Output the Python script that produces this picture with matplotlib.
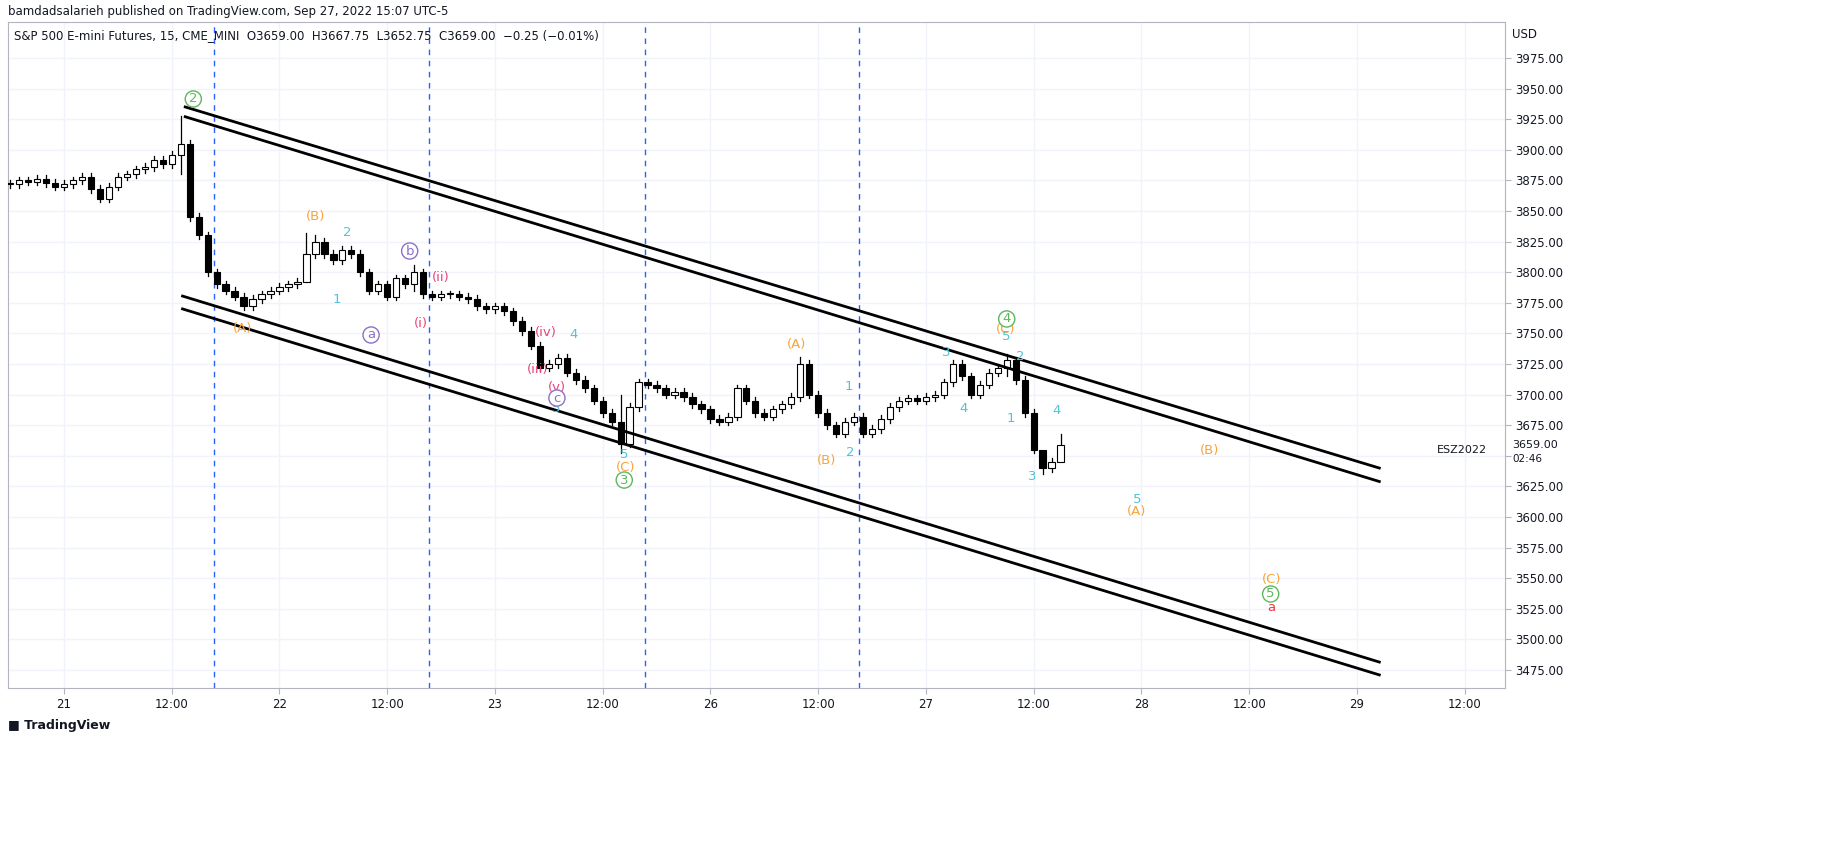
import matplotlib
matplotlib.use("Agg")
import matplotlib.pyplot as plt

# hourly closes, x in hours of the compressed session axis (0 = 21st)
START = -6
closes = [3872, 3875, 3874, 3876, 3873, 3870,
          3872, 3875, 3878, 3868, 3860, 3870, 3878, 3880, 3884, 3886,
          3892, 3888, 3896, 3905, 3845, 3830, 3800, 3790, 3785, 3780,
          3772, 3778, 3782, 3785, 3788, 3790, 3792, 3815, 3825, 3815,
          3810, 3818, 3815, 3800, 3785, 3790, 3780, 3795, 3790, 3800,
          3782, 3780, 3782, 3782, 3780, 3778, 3772, 3770, 3772, 3768,
          3760, 3752, 3740, 3722, 3725, 3730, 3718, 3712, 3705, 3695,
          3685, 3678, 3660, 3690, 3710, 3708, 3705, 3700, 3702, 3698,
          3692, 3688, 3680, 3678, 3682, 3705, 3695, 3685, 3682, 3688,
          3692, 3698, 3725, 3700, 3685, 3675, 3668, 3678, 3682, 3668,
          3672, 3680, 3690, 3695, 3697, 3695, 3698, 3700, 3710, 3725,
          3715, 3700, 3708, 3718, 3722, 3728, 3712, 3685, 3655, 3640, 3645, 3659]
# extreme wicks: hour -> (high, low)
wick_override = {13: (3928, 3880), 27: (3832, 3800), 28: (3830, 3812),
                 39: (3806, 3785), 62: (3700, 3652), 82: (3731, 3695),
                 105: (3733, 3715), 109: (3650, 3635), 111: (3668, 3652)}

channels = [((13.5, 3935.0), (146.5, 3640.0)),
            ((13.5, 3927.0), (146.5, 3629.0)),
            ((13.2, 3780.5), (146.5, 3481.5)),
            ((13.2, 3770.0), (146.5, 3471.0))]
vlines = [16.7, 40.6, 64.7, 88.6]

ORANGE, CYAN, GREEN, PURPLE, PINK, RED = "#f7a43b", "#4fc3d9", "#5cb85c", "#8e6fc7", "#e8457a", "#f23645"
# (text, x, price, colour, circled)
labels = [("2", 14.4, 3941.5, GREEN, True), ("(A)", 19.9, 3754.4, ORANGE, False),
          ("(B)", 28.0, 3845.9, ORANGE, False), ("2", 31.6, 3832.8, CYAN, False),
          ("1", 30.4, 3778.1, CYAN, False), ("b", 38.5, 3817.3, PURPLE, True),
          ("a", 34.2, 3748.7, PURPLE, True), ("(ii)", 42.0, 3795.3, PINK, False),
          ("(i)", 39.8, 3757.7, PINK, False), ("(iv)", 53.7, 3751.1, PINK, False),
          ("4", 56.7, 3748.7, CYAN, False), ("(iii)", 52.7, 3720.1, PINK, False),
          ("(v)", 54.9, 3706.2, PINK, False), ("5", 54.8, 3688.4, CYAN, False),
          ("c", 54.9, 3697.2, PURPLE, True), ("5", 62.4, 3650.7, CYAN, False),
          ("(C)", 62.5, 3640.8, ORANGE, False), ("3", 62.4, 3630.2, GREEN, True),
          ("(A)", 81.6, 3741.3, ORANGE, False), ("1", 87.4, 3707.0, CYAN, False),
          ("(B)", 84.9, 3645.8, ORANGE, False), ("2", 87.6, 3652.3, CYAN, False),
          ("3", 98.3, 3734.8, CYAN, False), ("4", 100.2, 3689.0, CYAN, False),
          ("(C)", 104.9, 3752.8, ORANGE, False), ("4", 105.0, 3761.8, GREEN, True),
          ("5", 104.9, 3747.1, CYAN, False), ("2", 106.5, 3731.5, CYAN, False),
          ("1", 105.5, 3680.1, CYAN, False), ("4", 110.5, 3687.4, CYAN, False),
          ("3", 107.8, 3632.7, CYAN, False), ("(B)", 127.6, 3654.7, ORANGE, False),
          ("5", 119.5, 3613.9, CYAN, False), ("(A)", 119.5, 3604.9, ORANGE, False),
          ("(C)", 134.5, 3549.3, ORANGE, False), ("5", 134.4, 3537.1, GREEN, True),
          ("a", 134.5, 3525.7, RED, False)]

tick_pos = [0, 12, 24, 36, 48, 60, 72, 84, 96, 108, 120, 132, 144, 156]
tick_lab = ["21", "12:00", "22", "12:00", "23", "12:00", "26", "12:00",
            "27", "12:00", "28", "12:00", "29", "12:00"]
price_ticks = list(range(3475, 4000, 25))
LAST_PRICE = 3659.00

fig = plt.figure(figsize=(18.34, 8.67), dpi=100)
ax = fig.add_axes([8 / 1834, 1 - 688 / 867, 1497 / 1834, 666 / 867])
ax.set_xlim(-6.24, 160.5)
ax.set_ylim(3460.3, 4004.4)

# candles
prev = closes[0]
for i, c in enumerate(closes):
    x = START + i
    o = prev
    hi, lo = wick_override.get(x, (max(o, c) + 3, min(o, c) - 3))
    ax.plot([x, x], [lo, hi], color="black", lw=0.9, zorder=3)
    up = c >= o
    ax.bar(x, max(abs(c - o), 0.6), bottom=min(o, c), width=0.7,
           color="white" if up else "black", edgecolor="black", lw=0.8, zorder=4)
    prev = c

for (x0, y0), (x1, y1) in channels:
    ax.plot([x0, x1], [y0, y1], color="black", lw=2, zorder=5)
for v in vlines:
    ax.axvline(v, color="#2962ff", ls=(0, (4, 4)), lw=1, zorder=2)

for t, x, y, col, circ in labels:
    kw = dict(boxstyle="circle,pad=0.12", fc="white", ec=col, lw=1) if circ else None
    ax.text(x, y, t, color=col, fontsize=9.5, ha="center", va="center",
            bbox=kw, zorder=6)

ax.set_xticks(tick_pos)
ax.set_xticklabels(tick_lab, fontsize=8.5, color="#131722")
ax.set_yticks(price_ticks)
# the last-price tag covers the 3650 label, as on the reference
ax.set_yticklabels(["" if abs(p - LAST_PRICE) < 12 else f"{p:.2f}" for p in price_ticks],
                   fontsize=8.5, color="#131722")
ax.yaxis.tick_right()
ax.tick_params(axis="both", length=4, color="#b2b5be")
ax.grid(color="#f0f3fa", lw=1)
ax.set_axisbelow(True)
for s in ax.spines.values():
    s.set_color("#b2b5be")

ax.text(6 / 1497, 1 - 14 / 666,
        "S&P 500 E-mini Futures, 15, CME_MINI  O3659.00  H3667.75  L3652.75  C3659.00  \u22120.25 (\u22120.01%)",
        transform=ax.transAxes, fontsize=8.5, color="#131722", va="center", ha="left")
ax.text(158.5, 3655, "ESZ2022", fontsize=8, ha="right", va="center", color="#131722")
fig.text(8 / 1834, 1 - 12 / 867, "bamdadsalarieh published on TradingView.com, Sep 27, 2022 15:07 UTC-5",
         fontsize=8.5, color="#131722", va="center")
fig.text(1512 / 1834, 1 - 34 / 867, "USD", fontsize=8.5, color="#131722", va="center")
fig.text(1512 / 1834, 1 - 445 / 867, f"{LAST_PRICE:.2f}", fontsize=8, color="#131722", va="center")
fig.text(1512 / 1834, 1 - 459 / 867, "02:46", fontsize=7.5, color="#131722", va="center")
fig.text(8 / 1834, 1 - 725 / 867, "\u25a0 TradingView", fontsize=9, color="#131722",
         va="center", fontweight="bold")

fig.savefig("out.png", dpi=100)
